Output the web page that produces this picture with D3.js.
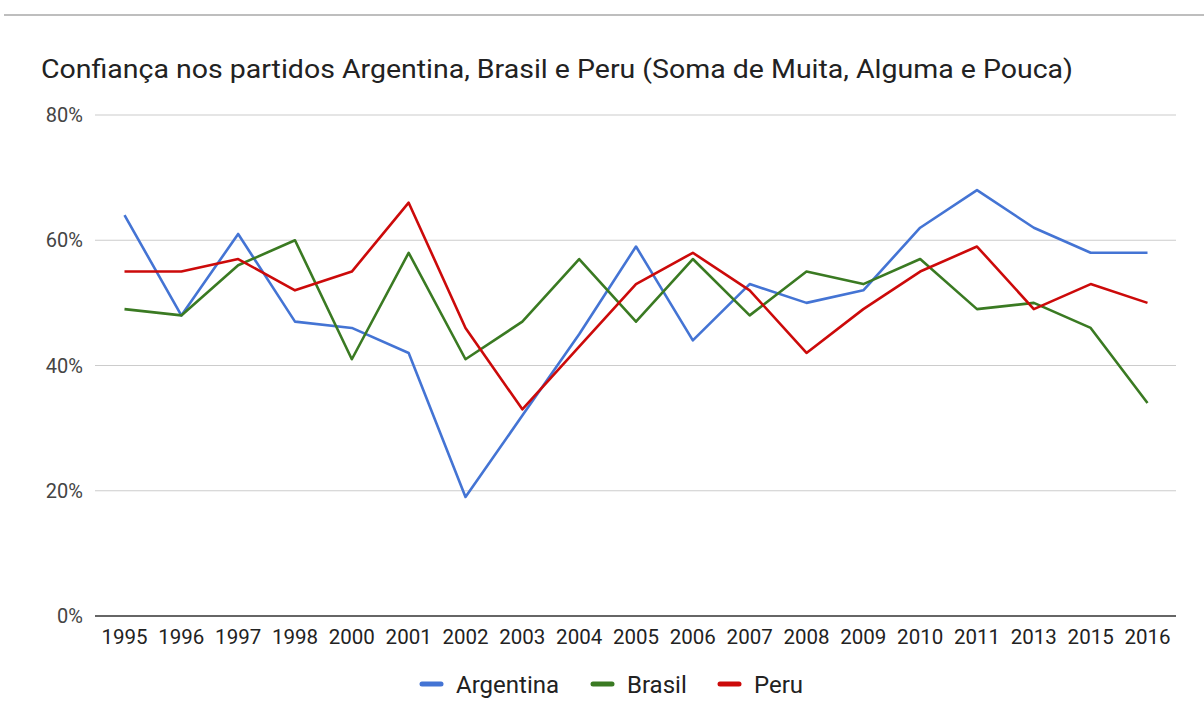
<!DOCTYPE html>
<html>
<head>
<meta charset="utf-8">
<script src="https://cdn.jsdelivr.net/npm/d3@7"></script>
<style>
  body { margin: 0; background: #fff; }
  svg { font-family: Roboto, "Noto Sans", sans-serif; }
</style>
</head>
<body>
<div id="chart"></div>
<script>
// data
const years = ["1995","1996","1997","1998","2000","2001","2002","2003","2004","2005",
               "2006","2007","2008","2009","2010","2011","2013","2015","2016"];
const argentina = [64, 48, 61, 47, 46, 42, 19, 32, 45, 59, 44, 53, 50, 52, 62, 68, 62, 58, 58];
const brasil    = [49, 48, 56, 60, 41, 58, 41, 47, 57, 47, 57, 48, 55, 53, 57, 49, 50, 46, 34];
const peru      = [55, 55, 57, 52, 55, 66, 46, 33, 43, 53, 58, 52, 42, 49, 55, 59, 49, 53, 50];
const yTicks = [0, 20, 40, 60, 80];

const series = [
    { name: "Argentina", values: argentina, color: "#4474d4" },
    { name: "Brasil", values: brasil, color: "#3a7a22" },
    { name: "Peru", values: peru, color: "#cc0a0a" }
];

const width = 1204, height = 725;
const plot = { left: 95, right: 1176, top: 115, bottom: 616 };

const svg = d3.select("#chart").append("svg")
    .attr("width", width)
    .attr("height", height);

// page rule at top
svg.append("line")
    .attr("x1", 4).attr("x2", width)
    .attr("y1", 15).attr("y2", 15)
    .attr("stroke", "#a8a8a8").attr("stroke-width", 1.5);

// title
svg.append("text")
    .attr("x", 41).attr("y", 78)
    .attr("textLength", 1032)
    .attr("lengthAdjust", "spacingAndGlyphs")
    .text("Confiança nos partidos Argentina, Brasil e Peru (Soma de Muita, Alguma e Pouca)")
    .style("font-size", "26px")
    .style("fill", "#222");

const x = d3.scalePoint()
    .domain(years)
    .range([124.5, 1147.5]);

const y = d3.scaleLinear()
    .domain([0, 80])
    .range([plot.bottom, plot.top]);

// gridlines
svg.append("g")
    .selectAll("line")
    .data(yTicks.filter(d => d > 0))
    .join("line")
    .attr("x1", plot.left).attr("x2", plot.right)
    .attr("y1", d => y(d)).attr("y2", d => y(d))
    .attr("stroke", "#cccccc").attr("stroke-width", 1.2);

// y labels
svg.append("g")
    .selectAll("text")
    .data(yTicks)
    .join("text")
    .attr("x", 83)
    .attr("y", d => y(d))
    .attr("dy", "0.35em")
    .attr("text-anchor", "end")
    .text(d => d + "%")
    .style("font-size", "20px")
    .style("fill", "#444");

// x labels
svg.append("g")
    .selectAll("text")
    .data(years)
    .join("text")
    .attr("x", d => x(d))
    .attr("y", 644)
    .attr("text-anchor", "middle")
    .text(d => d)
    .style("font-size", "20.5px")
    .style("fill", "#222");

// lines
const line = d3.line()
    .x((d, i) => x(years[i]))
    .y(d => y(d));

svg.append("g")
    .selectAll("path")
    .data(series)
    .join("path")
    .attr("d", d => line(d.values))
    .attr("fill", "none")
    .attr("stroke", d => d.color)
    .attr("stroke-width", 2.6)
    .attr("stroke-linejoin", "round");

// baseline
svg.append("line")
    .attr("x1", plot.left).attr("x2", plot.right)
    .attr("y1", y(0)).attr("y2", y(0))
    .attr("stroke", "#333").attr("stroke-width", 1.3);

// legend
const legendX = [420, 591, 718];
const legend = svg.append("g")
    .selectAll("g")
    .data(series)
    .join("g")
    .attr("transform", (d, i) => `translate(${legendX[i]},684)`);

legend.append("line")
    .attr("x1", 2).attr("x2", 21)
    .attr("y1", 0).attr("y2", 0)
    .attr("stroke", d => d.color)
    .attr("stroke-width", 5)
    .attr("stroke-linecap", "round");

legend.append("text")
    .attr("x", 36)
    .attr("dy", "0.36em")
    .text(d => d.name)
    .style("font-size", "24px")
    .style("fill", "#222");
</script>
</body>
</html>
